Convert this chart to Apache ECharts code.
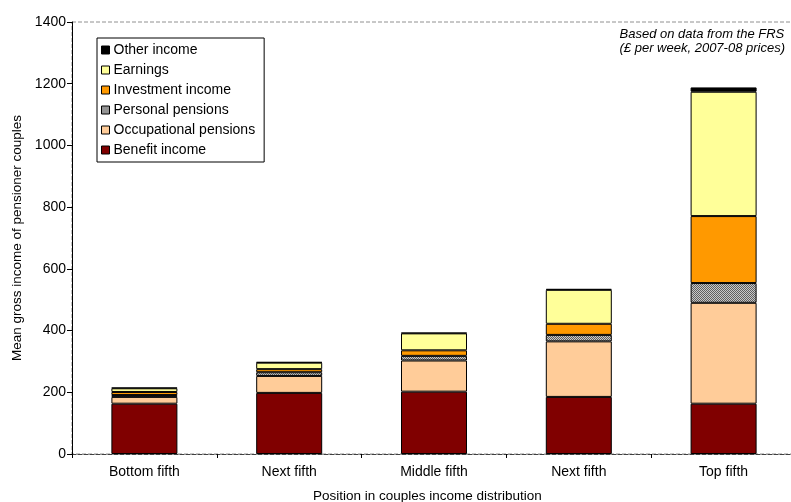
<!DOCTYPE html>
<html>
<head>
<meta charset="utf-8">
<script src="https://cdn.jsdelivr.net/npm/echarts@6/dist/echarts.min.js"></script>
<style>
  html, body { margin: 0; padding: 0; background: #fff; }
  #chart { width: 791px; height: 502px; }
</style>
</head>
<body>
<div id="chart"></div>
<script>
// Income quintiles of pensioner couples
const categories = ['Bottom fifth', 'Next fifth', 'Middle fifth', 'Next fifth', 'Top fifth'];

// Mean gross weekly income by source (£ per week, 2007-08 prices)
const benefitIncome       = [163, 198, 202, 185, 163];
const occupationalPension = [22, 55, 101, 180, 327];
const personalPension     = [6, 12, 15, 21, 64];
const investmentIncome    = [10, 10, 18, 36, 217];
const earnings            = [12, 21, 55, 110, 403];
const otherIncome         = [2, 2, 2, 3, 14];

const yTicks = [0, 200, 400, 600, 800, 1000, 1200, 1400];

// Checkered fill for personal pensions
function checker() {
  const c = document.createElement('canvas');
  c.width = 2; c.height = 2;
  const g = c.getContext('2d');
  g.fillStyle = '#c8c8c8'; g.fillRect(0, 0, 2, 2);
  g.fillStyle = '#606060'; g.fillRect(0, 0, 1, 1); g.fillRect(1, 1, 1, 1);
  return c;
}

const FONT = '"Liberation Sans", Arial, sans-serif';
const border = { borderColor: '#000', borderWidth: 1 };

function bar(name, data, color) {
  return {
    name: name,
    type: 'bar',
    stack: 'income',
    data: data,
    barWidth: 66,
    itemStyle: Object.assign({ color: color }, border),
    emphasis: { disabled: true }
  };
}

const chart = echarts.init(document.getElementById('chart'), null, { renderer: 'canvas' });

chart.setOption({
  animation: false,
  backgroundColor: '#fff',
  textStyle: { fontFamily: FONT, color: '#000' },
  grid: {
    left: 72, top: 22, width: 724, height: 432,
    outerBoundsMode: 'none',
    show: true, borderColor: '#909090', borderWidth: 1, borderType: 'dashed',
    containLabel: false
  },
  legend: {
    orient: 'vertical',
    left: 97, top: 38,
    data: ['Other income', 'Earnings', 'Investment income', 'Personal pensions', 'Occupational pensions', 'Benefit income'],
    icon: 'rect',
    itemWidth: 8, itemHeight: 8, itemGap: 6,
    padding: [5, 9, 5, 4],
    backgroundColor: '#fff',
    borderColor: '#000', borderWidth: 1,
    itemStyle: { borderColor: '#000', borderWidth: 1 },
    textStyle: { fontFamily: FONT, fontSize: 14, color: '#000', padding: [0, 0, 0, -1] }
  },
  xAxis: {
    type: 'category',
    data: categories,
    axisLine: { lineStyle: { color: '#404040', type: 'dashed', width: 1 } },
    axisTick: { show: true, length: 4, lineStyle: { color: '#000' } },
    axisLabel: { fontFamily: FONT, fontSize: 14, color: '#000', margin: 11 },
    splitLine: { show: false }
  },
  yAxis: {
    type: 'value',
    min: yTicks[0], max: yTicks[yTicks.length - 1], interval: 200,
    name: 'Mean gross income of pensioner couples',
    nameLocation: 'middle', nameGap: 47,
    nameTextStyle: { fontFamily: FONT, fontSize: 13.5, color: '#000' },
    axisLine: { show: true, lineStyle: { color: '#000', width: 1 } },
    axisTick: { show: true, inside: false, length: 5, lineStyle: { color: '#000' } },
    axisLabel: { fontFamily: FONT, fontSize: 14, color: '#000', margin: 6, formatter: v => String(v) },
    splitLine: { show: false }
  },
  graphic: [
    {
      type: 'text', right: 6, top: 27,
      style: {
        text: 'Based on data from the FRS\n(£ per week, 2007-08 prices)',
        font: 'italic 13px ' + FONT, fill: '#000', align: 'right', lineHeight: 14
      }
    },
    {
      type: 'text', left: 313, top: 489,
      style: {
        text: 'Position in couples income distribution',
        font: '13.5px ' + FONT, fill: '#000'
      }
    }
  ],
  series: [
    bar('Benefit income', benefitIncome, '#800000'),
    bar('Occupational pensions', occupationalPension, '#FFCC99'),
    bar('Personal pensions', personalPension, { image: checker(), repeat: 'repeat' }),
    bar('Investment income', investmentIncome, '#FF9900'),
    bar('Earnings', earnings, '#FFFF99'),
    bar('Other income', otherIncome, '#000000')
  ]
});
</script>
</body>
</html>
